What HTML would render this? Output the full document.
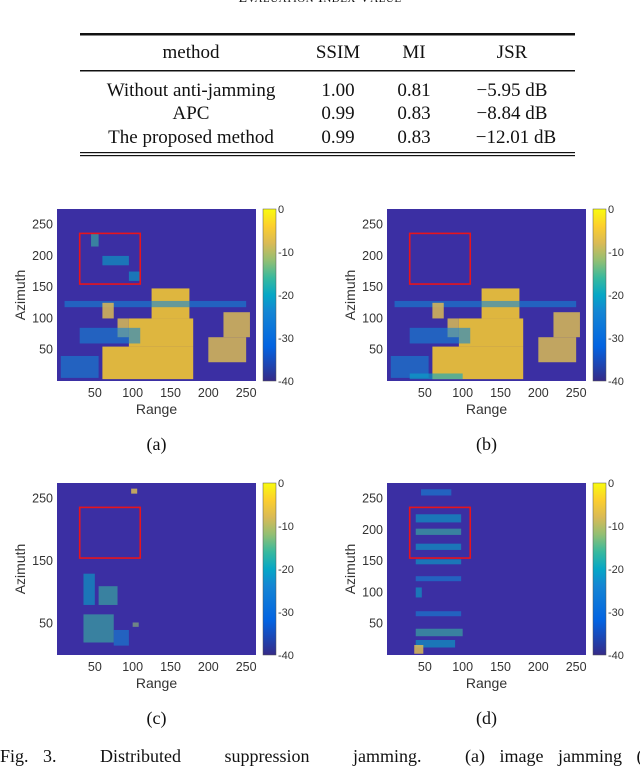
<!DOCTYPE html>
<html><head><meta charset="utf-8"><style>
body{margin:0;width:640px;height:759px;background:#fff;overflow:hidden;position:relative;font-family:"Liberation Serif",serif;}
.t{position:absolute;color:#111;}
</style></head><body>
<div class="t" style="left:0;width:640px;top:-9px;text-align:center;font-size:14px;letter-spacing:0.5px;">E<span style="font-size:11px">VALUATION</span> I<span style="font-size:11px">NDEX</span> V<span style="font-size:11px">ALUE</span></div>
<svg width="640" height="759" style="position:absolute;left:0;top:0">
<defs><linearGradient id="parula" x1="0" y1="1" x2="0" y2="0">
<stop offset="0" stop-color="#352a87"/><stop offset="0.2" stop-color="#0363e1"/><stop offset="0.4" stop-color="#1485d4"/><stop offset="0.5" stop-color="#06a7c6"/><stop offset="0.6" stop-color="#38b99e"/><stop offset="0.7" stop-color="#92bf73"/><stop offset="0.8" stop-color="#d9ba56"/><stop offset="0.9" stop-color="#fcce2e"/><stop offset="1" stop-color="#f9fb0e"/></linearGradient></defs>
<g font-family="Liberation Serif, serif" font-size="19" fill="#111" text-anchor="middle">
<rect x="80" y="33" width="495" height="2.5" fill="#111"/>
<rect x="80" y="70" width="495" height="1.5" fill="#111"/>
<rect x="80" y="152" width="495" height="1.2" fill="#111"/>
<rect x="80" y="155" width="495" height="1.2" fill="#111"/>
<text x="191" y="58">method</text><text x="338" y="58">SSIM</text><text x="414" y="58">MI</text><text x="512" y="58">JSR</text>
<text x="191" y="96">Without anti-jamming</text><text x="338" y="96">1.00</text><text x="414" y="96">0.81</text><text x="512" y="96">−5.95 dB</text>
<text x="191" y="119">APC</text><text x="338" y="119">0.99</text><text x="414" y="119">0.83</text><text x="512" y="119">−8.84 dB</text>
<text x="191" y="143">The proposed method</text><text x="338" y="143">0.99</text><text x="414" y="143">0.83</text><text x="516" y="143">−12.01 dB</text>
</g>
<g id="panels"></g>
</svg>
<div class="t" style="left:0;top:746px;width:640px;overflow:hidden;font-size:18px;white-space:nowrap;word-spacing:10px;">Fig. 3. &nbsp;&nbsp;Distributed &nbsp;&nbsp;suppression &nbsp;&nbsp;jamming. &nbsp;&nbsp;(a) image jamming (b) image of the</div>
<script>
const xTicks=[50,100,150,200,250];
const cbTicks=[0,-10,-20,-30,-40];
const panelLabels=["(a)","(b)","(c)","(d)"];
const yTicksA=[50,100,150,200,250];
const yTicksC=[50,150,250];
const boxRange=[30,110];
const boxAz=[155,236];
// blobs: [range0,range1,az0,az1,level(0..1)]
const blobsA=[[60,180,3,55,0.88],[95,180,55,100,0.85],[125,175,100,148,0.88],[80,95,70,100,0.8],[200,250,30,70,0.8],[220,255,70,110,0.7],[5,55,5,40,0.3],[30,110,60,85,0.3],[10,250,118,128,0.22],[45,55,215,235,0.45],[60,95,185,200,0.4],[95,110,160,175,0.4],[60,75,100,125,0.7]];
const blobsB=[[60,180,3,55,0.88],[95,180,55,100,0.85],[125,175,100,148,0.88],[80,95,70,100,0.8],[200,250,30,70,0.8],[220,255,70,110,0.7],[5,55,5,40,0.3],[30,110,60,85,0.3],[10,250,118,128,0.22],[60,75,100,125,0.7],[30,100,3,12,0.35]];
const blobsC=[[35,50,80,130,0.4],[55,80,80,110,0.45],[35,75,20,65,0.45],[75,95,15,40,0.3],[100,108,45,52,0.6],[98,106,258,266,0.8]];
const blobsD=[[45,85,255,265,0.3],[38,98,212,225,0.35],[38,98,192,202,0.5],[38,98,168,178,0.4],[38,98,145,153,0.4],[38,98,118,126,0.25],[38,46,92,108,0.35],[38,98,62,70,0.25],[38,100,30,42,0.5],[38,90,12,24,0.4],[36,48,2,16,0.8]];
const panels=[{x:57,y:209,yt:yTicksA,b:blobsA},{x:387,y:209,yt:yTicksA,b:blobsB},{x:57,y:483,yt:yTicksC,b:blobsC},{x:387,y:483,yt:yTicksA,b:blobsD}];
const pal=["#352a87","#0363e1","#1485d4","#06a7c6","#38b99e","#92bf73","#d9ba56","#fcce2e","#f9fb0e"];
function col(v){return pal[Math.max(0,Math.min(8,Math.round(v*8)))];}
const NS="http://www.w3.org/2000/svg";
const root=document.getElementById("panels");
function mk(t,a,p){const e=document.createElementNS(NS,t);for(const k in a)e.setAttribute(k,a[k]);(p||root).appendChild(e);return e;}
panels.forEach((P,i)=>{
 const W=199,H=172;
 const sx=r=>P.x+(r)/263*W;
 const sy=a=>P.y+H-(a)/275*H;
 const g=mk("g",{});
 
 
 const bg=mk("rect",{x:P.x,y:P.y,width:W,height:H,fill:"#3b2fa3"},g);
 
 
 P.b.forEach(b=>{
  const r=mk("rect",{x:sx(b[0]),y:sy(b[3]),width:sx(b[1])-sx(b[0]),height:sy(b[2])-sy(b[3]),fill:col(b[4]),opacity:b[4]>0.6?0.85:0.6},g);
  
  
 });
 const bx=mk("rect",{x:sx(boxRange[0]),y:sy(boxAz[1]),width:sx(boxRange[1])-sx(boxRange[0]),height:sy(boxAz[0])-sy(boxAz[1]),fill:"none",stroke:"#e8141c","stroke-width":1.6},g);
 
 
 xTicks.forEach(t=>{const e=mk("text",{x:sx(t),y:P.y+H+16,"font-family":"Liberation Sans, sans-serif","font-size":12.5,fill:"#333","text-anchor":"middle"},g);e.textContent=t;
  
  });
 P.yt.forEach(t=>{const e=mk("text",{x:P.x-4,y:sy(t)+4,"font-family":"Liberation Sans, sans-serif","font-size":12.5,fill:"#333","text-anchor":"end"},g);e.textContent=t;
  
  });
 const xl=mk("text",{x:P.x+W/2,y:P.y+H+33,"font-family":"Liberation Sans, sans-serif","font-size":14,fill:"#333","text-anchor":"middle"},g);xl.textContent="Range";
 
 
 const yl=mk("text",{x:0,y:0,transform:`translate(${P.x-32},${P.y+H/2}) rotate(-90)`,"font-family":"Liberation Sans, sans-serif","font-size":14,fill:"#333","text-anchor":"middle"},g);yl.textContent="Azimuth";
 
 
 const cb=mk("rect",{x:P.x+206,y:P.y,width:13,height:H,fill:"url(#parula)",stroke:"#555","stroke-width":0.5},g);
 
 
 cbTicks.forEach(t=>{const yy=P.y+(-t)/40*H;const e=mk("text",{x:P.x+221,y:yy+4,"font-family":"Liberation Sans, sans-serif","font-size":11,fill:"#333"},g);e.textContent=t;
  
  });
 const pl=mk("text",{x:P.x+W/2,y:P.y+H+69,"font-family":"Liberation Serif, serif","font-size":18,fill:"#111","text-anchor":"middle"},g);pl.textContent=panelLabels[i];
 
 
});
</script>
</body></html>
